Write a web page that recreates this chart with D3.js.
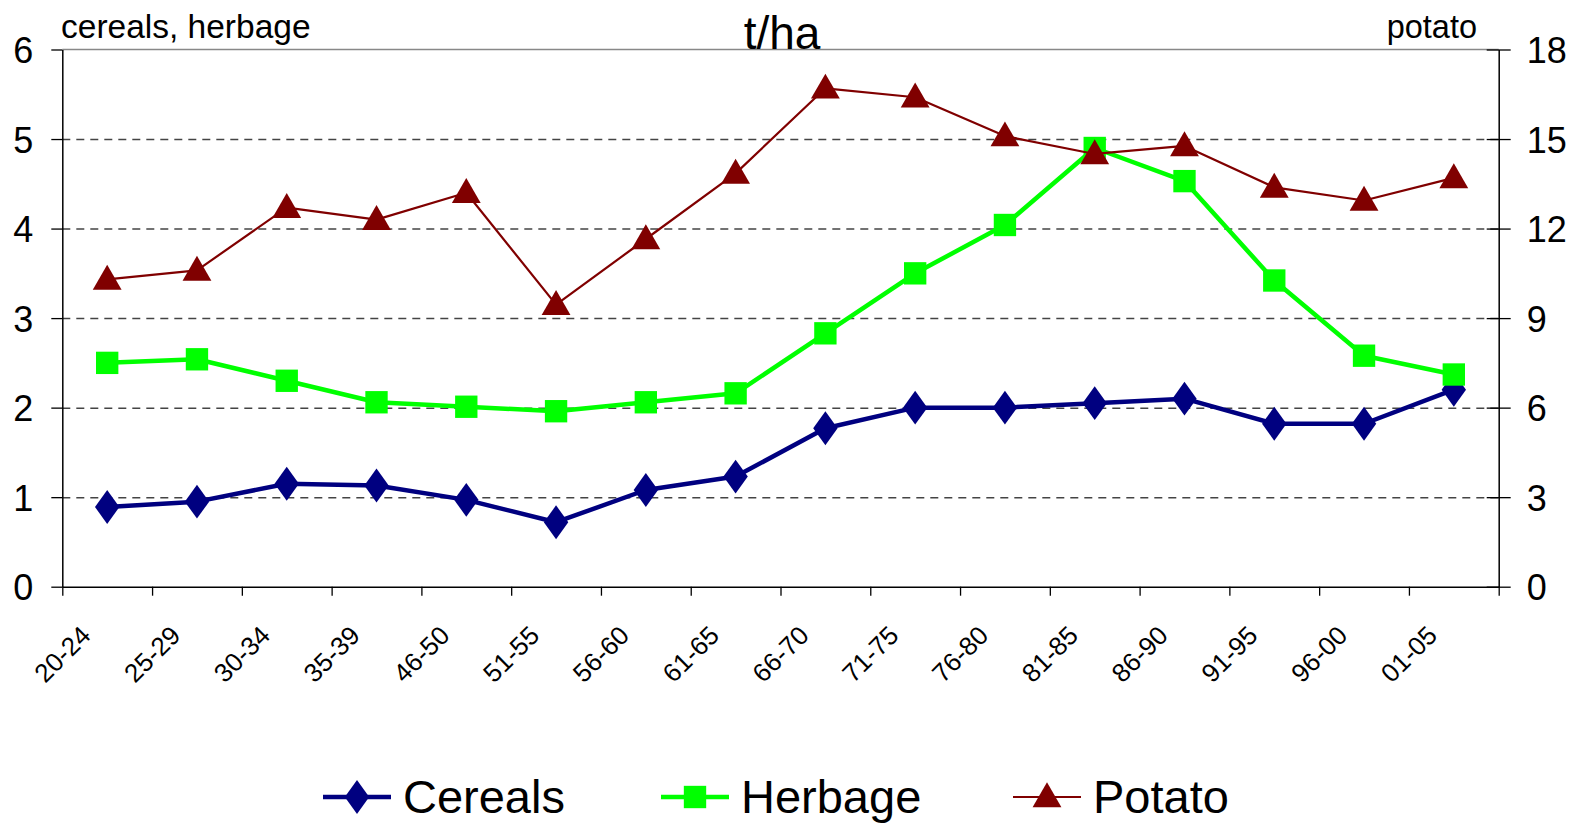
<!DOCTYPE html>
<html>
<head>
<meta charset="utf-8">
<script src="https://cdn.jsdelivr.net/npm/d3@7"></script>
<style>
  body { margin: 0; background: #fff; }
  svg text { font-family: "Liberation Sans", Arial, sans-serif; fill: #000; }
</style>
</head>
<body>
<svg id="chart"></svg>
<script>
var width = 1574, height = 823;

// data
var categories = ["20-24", "25-29", "30-34", "35-39", "46-50", "51-55", "56-60", "61-65",
                  "66-70", "71-75", "76-80", "81-85", "86-90", "91-95", "96-00", "01-05"];
var cereals = [0.89, 0.95, 1.15, 1.13, 0.97, 0.72, 1.08, 1.23, 1.77, 2.0, 2.0, 2.05, 2.1, 1.82, 1.82, 2.2];
var herbage = [2.5, 2.54, 2.3, 2.06, 2.01, 1.96, 2.06, 2.16, 2.83, 3.5, 4.04, 4.9, 4.53, 3.42, 2.58, 2.37];
var potato = [10.3, 10.6, 12.7, 12.3, 13.2, 9.45, 11.65, 13.85, 16.7, 16.4, 15.1, 14.5, 14.77, 13.38, 12.94, 13.7];
var leftTicks = [0, 1, 2, 3, 4, 5, 6];
var rightTicks = [0, 3, 6, 9, 12, 15, 18];

var x0 = 62.3, x1 = 1498.7, yTop = 49.5, yBot = 586.7;

var svg = d3.select("#chart").attr("width", width).attr("height", height);

var x = d3.scaleBand().domain(categories).range([x0, x1]).padding(0);
var xIdx = d3.scaleLinear().domain([0, categories.length]).range([x0, x1]);
var yL = d3.scaleLinear().domain([0, 6]).range([yBot, yTop]);
var yR = d3.scaleLinear().domain([0, 18]).range([yBot, yTop]);

function cx(c) { return x(c) + x.bandwidth() / 2; }

// Gridlines (dashed)
svg.append("g").selectAll("line").data(leftTicks.filter(function(d) { return d > 0 && d < 6; }))
  .enter().append("line")
  .attr("x1", x0).attr("x2", x1)
  .attr("y1", function(d) { return yL(d) + 0.5; }).attr("y2", function(d) { return yL(d) + 0.5; })
  .style("stroke", "#444").style("stroke-width", 1.5).style("stroke-dasharray", "8,6");

// top border of plot area
svg.append("line").attr("x1", x0).attr("x2", x1).attr("y1", yTop).attr("y2", yTop)
  .style("stroke", "#888").style("stroke-width", 1.5);

// Left axis
var gl = svg.append("g").attr("transform", "translate(" + x0 + ",0)")
  .call(d3.axisLeft(yL).tickValues(leftTicks).tickSize(11).tickSizeOuter(0).tickFormat(d3.format("d")));
gl.select(".domain").style("stroke", "#000").style("stroke-width", 1.5);
gl.selectAll(".tick line").style("stroke", "#000").style("stroke-width", 1.3);
gl.selectAll(".tick text").attr("x", -29).attr("dy", "0.36em")
  .style("font-size", "36px").style("font-family", "Liberation Sans, Arial, sans-serif");

// Right axis (ticks cross the axis)
var gr = svg.append("g").attr("transform", "translate(" + x1 + ",0)")
  .call(d3.axisRight(yR).tickValues(rightTicks).tickSize(12).tickSizeOuter(0).tickFormat(d3.format("d")));
gr.select(".domain").style("stroke", "#000").style("stroke-width", 1.5);
gr.selectAll(".tick line").attr("x1", -12).style("stroke", "#000").style("stroke-width", 1.3);
gr.selectAll(".tick text").attr("x", 28).attr("dy", "0.36em")
  .style("font-size", "36px").style("font-family", "Liberation Sans, Arial, sans-serif");

// Bottom axis, ticks between categories
var gb = svg.append("g").attr("transform", "translate(0," + yBot + ")")
  .call(d3.axisBottom(xIdx).tickValues(d3.range(categories.length + 1)).tickSize(9).tickSizeOuter(0).tickFormat(""));
gb.select(".domain").style("stroke", "#000").style("stroke-width", 1.5);
gb.selectAll(".tick line").style("stroke", "#000").style("stroke-width", 1.3);

svg.append("g").selectAll("text").data(categories).enter().append("text")
  .attr("text-anchor", "end")
  .attr("transform", function(d) { return "translate(" + (cx(d) - 15) + ",637) rotate(-45)"; })
  .style("font-size", "26px")
  .text(function(d) { return d; });

// Series
var series = [
  { name: "Cereals", vals: cereals, y: yL, color: "#000080", w: 4.5, shape: d3.symbolDiamond, size: 330 },
  { name: "Herbage", vals: herbage, y: yL, color: "#00FF00", w: 4.5, shape: d3.symbolSquare, size: 500 },
  { name: "Potato", vals: potato, y: yR, color: "#800000", w: 2.2, shape: d3.symbolTriangle, size: 360 }
];

function markTransform(shape, px, py) {
  var dy = shape === d3.symbolTriangle ? 2 : 0;
  return "translate(" + px + "," + (py + dy) + ")" + (shape === d3.symbolDiamond ? " scale(1.25,1)" : "");
}

var line = d3.line();
series.forEach(function(s) {
  var pts = s.vals.map(function(v, i) { return [cx(categories[i]), s.y(v)]; });
  svg.append("path").attr("d", line(pts))
    .style("fill", "none").style("stroke", s.color).style("stroke-width", s.w)
    .style("stroke-linejoin", "round");
  svg.append("g").selectAll("path").data(pts).enter().append("path")
    .attr("d", d3.symbol().type(s.shape).size(s.size))
    .attr("transform", function(p) { return markTransform(s.shape, p[0], p[1]); })
    .style("fill", s.color);
});

// Legend
var legendX = [323, 661, 1013];
var lg = svg.append("g").selectAll("g").data(series).enter().append("g")
  .attr("transform", function(d, i) { return "translate(" + legendX[i] + ",797)"; });
lg.append("line").attr("x1", 0).attr("x2", 68).attr("y1", 0).attr("y2", 0)
  .style("stroke", function(d) { return d.color; }).style("stroke-width", function(d) { return d.w; });
lg.append("path")
  .attr("d", function(d) { return d3.symbol().type(d.shape).size(d.size)(); })
  .attr("transform", function(d) { return markTransform(d.shape, 34, 0); })
  .style("fill", function(d) { return d.color; });
lg.append("text").attr("x", 80).attr("y", 16).style("font-size", "47px")
  .text(function(d) { return d.name; });

// Titles
svg.append("text").attr("x", 61).attr("y", 38).style("font-size", "33.5px").text("cereals, herbage");
svg.append("text").attr("x", 1477).attr("y", 38).attr("text-anchor", "end").style("font-size", "32.5px").text("potato");
svg.append("text").attr("x", 782).attr("y", 49).attr("text-anchor", "middle").style("font-size", "46px").text("t/ha");
</script>
</body>
</html>
